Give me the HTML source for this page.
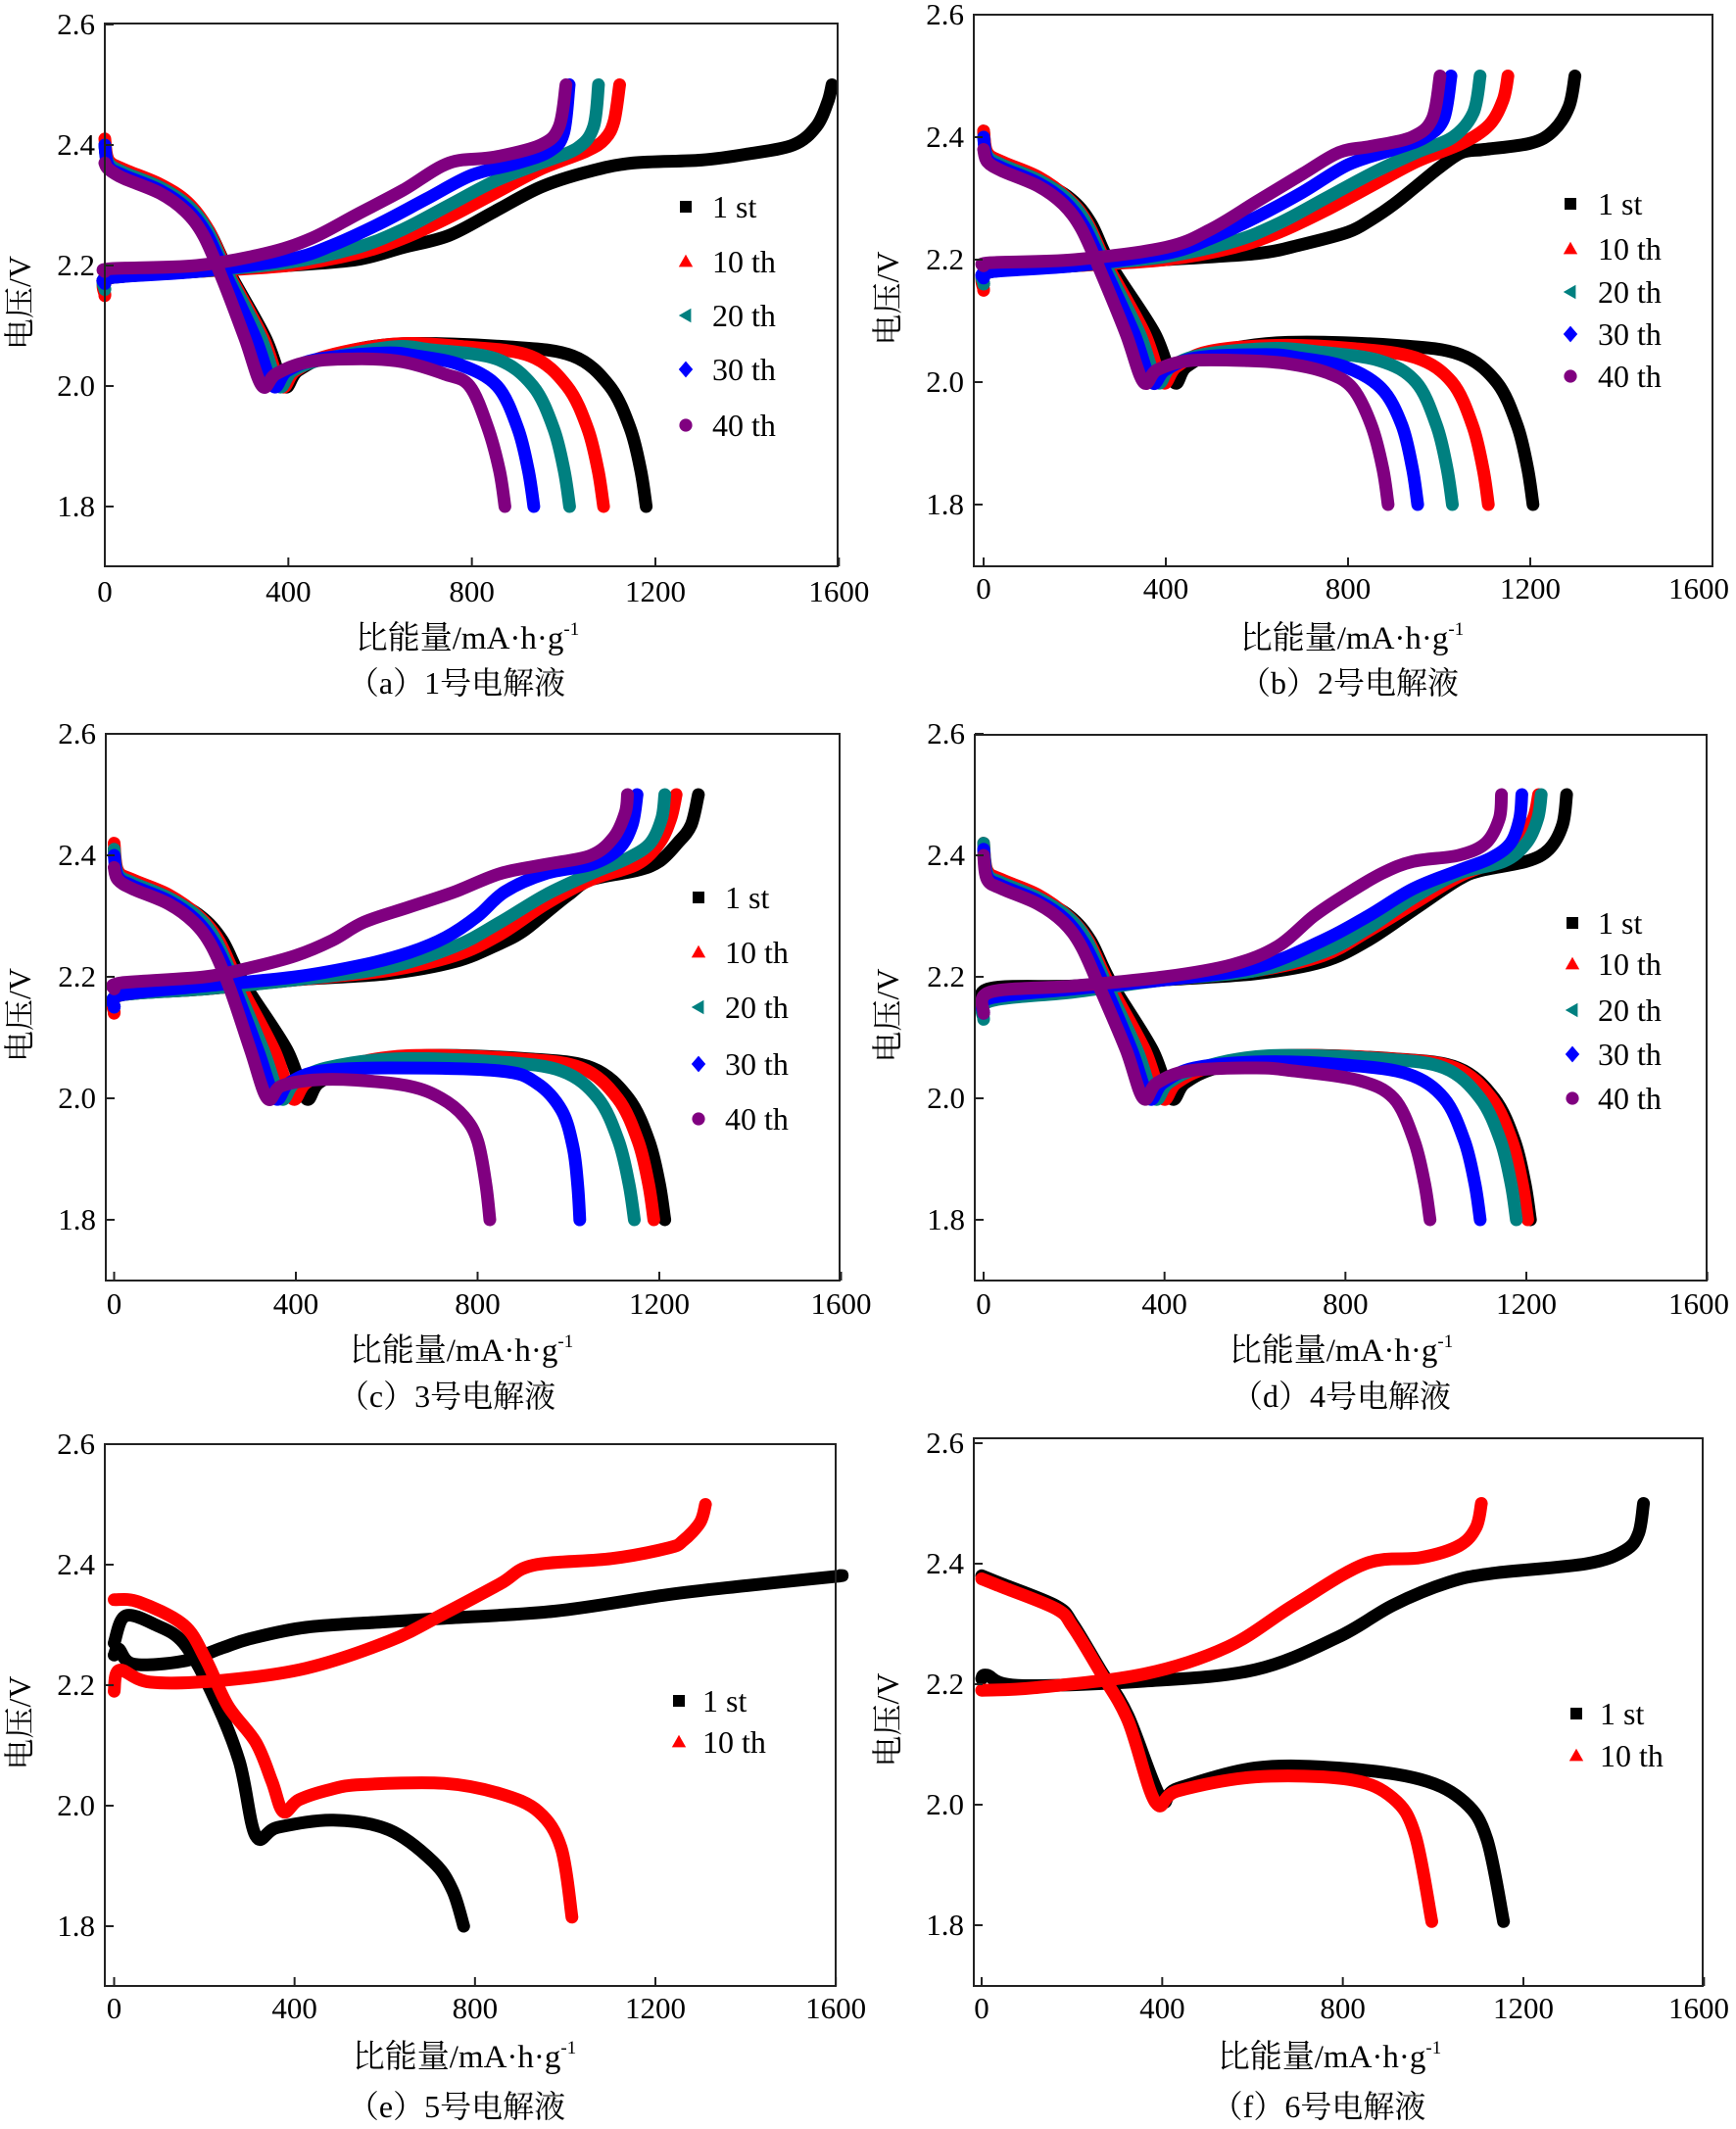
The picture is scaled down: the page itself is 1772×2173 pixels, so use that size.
<!DOCTYPE html>
<html><head><meta charset="utf-8">
<style>
html,body{margin:0;padding:0;background:#fff;}
svg{display:block;}
text{font-family:"Liberation Serif","Noto Serif CJK SC","Noto Sans CJK SC",serif;fill:#000;}
</style></head>
<body>
<svg id="fig" width="1772" height="2173" viewBox="0 0 1772 2173" xmlns="http://www.w3.org/2000/svg"></svg>
<script>
// ---------- shared axis data ----------
const xTickValues = [0, 400, 800, 1200, 1600];
const xTickLabels = ["0", "400", "800", "1200", "1600"];
const yTickValues = [1.8, 2.0, 2.2, 2.4, 2.6];
const yTickLabels = ["1.8", "2.0", "2.2", "2.4", "2.6"];
const seriesNames5 = ["1 st", "10 th", "20 th", "30 th", "40 th"];
const seriesNames2 = ["1 st", "10 th"];

// ---------- panel (a) ----------
const aCh1 = [[0,2.17],[15,2.18],[200,2.19],[400,2.20],[550,2.21],[650,2.23],[750,2.25],[850,2.29],[950,2.33],[1050,2.355],[1150,2.37],[1300,2.375],[1400,2.385],[1500,2.40],[1550,2.43],[1575,2.47],[1585,2.50]];
const aCh10 = [[0,2.15],[15,2.18],[200,2.19],[400,2.20],[550,2.22],[650,2.245],[750,2.28],[850,2.32],[950,2.36],[1050,2.39],[1090,2.41],[1110,2.44],[1122,2.50]];
const aCh20 = [[0,2.16],[15,2.18],[200,2.19],[400,2.205],[550,2.23],[650,2.26],[750,2.30],[850,2.34],[950,2.37],[1030,2.395],[1065,2.43],[1076,2.50]];
const aCh30 = [[0,2.17],[15,2.18],[200,2.19],[400,2.21],[500,2.235],[600,2.27],[700,2.31],[800,2.35],[900,2.37],[970,2.39],[1000,2.42],[1012,2.50]];
const aCh40 = [[0,2.19],[15,2.195],[200,2.20],[350,2.22],[450,2.245],[550,2.285],[650,2.325],[750,2.37],[850,2.38],[950,2.40],[990,2.43],[1005,2.50]];
const aDis1 = [[0,2.40],[8,2.37],[40,2.355],[120,2.33],[180,2.30],[225,2.26],[270,2.19],[350,2.08],[391,2.00],[420,2.025],[490,2.05],[640,2.07],[880,2.065],[1020,2.05],[1100,2.00],[1145,1.93],[1168,1.86],[1180,1.80]];
const aDis10 = [[0,2.41],[8,2.375],[40,2.36],[120,2.335],[180,2.305],[225,2.26],[268,2.19],[345,2.08],[385,2.00],[415,2.025],[485,2.05],[635,2.07],[787,2.065],[927,2.05],[1007,2.00],[1052,1.93],[1075,1.86],[1087,1.80]];
const aDis20 = [[0,2.40],[8,2.37],[40,2.355],[120,2.33],[180,2.30],[222,2.26],[265,2.19],[340,2.08],[379,2.00],[409,2.025],[479,2.045],[629,2.065],[713,2.06],[853,2.045],[933,2.00],[978,1.93],[1001,1.86],[1013,1.80]];
const aDis30 = [[0,2.40],[8,2.365],[40,2.35],[120,2.325],[178,2.295],[220,2.255],[260,2.19],[328,2.08],[367,2.00],[397,2.025],[467,2.045],[610,2.055],[680,2.05],[775,2.035],[855,2.00],[900,1.93],[923,1.86],[935,1.80]];
const aDis40 = [[0,2.37],[8,2.36],[40,2.345],[120,2.32],[175,2.29],[215,2.25],[255,2.18],[305,2.08],[343,2.00],[373,2.02],[443,2.04],[560,2.045],[650,2.04],[740,2.02],[795,2.00],[835,1.93],[860,1.86],[872,1.80]];

// ---------- panel (b) ----------
const bCh1 = [[0,2.16],[15,2.18],[200,2.19],[400,2.20],[600,2.21],[700,2.225],[800,2.245],[850,2.265],[900,2.29],[950,2.32],[1000,2.35],[1050,2.375],[1100,2.38],[1200,2.39],[1250,2.41],[1285,2.45],[1298,2.50]];
const bCh10 = [[0,2.15],[15,2.18],[200,2.19],[400,2.20],[550,2.22],[650,2.245],[750,2.28],[850,2.32],[950,2.36],[1050,2.39],[1110,2.42],[1140,2.46],[1151,2.50]];
const bCh20 = [[0,2.16],[15,2.18],[200,2.19],[400,2.205],[550,2.23],[650,2.26],[750,2.30],[850,2.34],[950,2.375],[1030,2.40],[1075,2.44],[1090,2.50]];
const bCh30 = [[0,2.17],[15,2.18],[200,2.19],[400,2.21],[500,2.235],[600,2.27],[700,2.31],[800,2.355],[900,2.38],[970,2.40],[1010,2.43],[1026,2.50]];
const bCh40 = [[0,2.19],[15,2.195],[200,2.20],[400,2.22],[500,2.25],[600,2.295],[700,2.34],[780,2.375],[850,2.385],[940,2.40],[985,2.43],[1002,2.50]];
const bDis1 = [[0,2.41],[8,2.37],[40,2.355],[120,2.33],[190,2.30],[235,2.26],[280,2.19],[375,2.08],[418,2.00],[445,2.025],[515,2.05],[668,2.065],[906,2.06],[1046,2.045],[1126,2.00],[1171,1.93],[1194,1.86],[1206,1.80]];
const bDis10 = [[0,2.41],[8,2.375],[40,2.36],[120,2.335],[185,2.30],[228,2.26],[272,2.19],[353,2.08],[393,2.00],[423,2.025],[493,2.05],[643,2.06],[808,2.055],[948,2.04],[1028,2.00],[1073,1.93],[1096,1.86],[1108,1.80]];
const bDis20 = [[0,2.40],[8,2.37],[40,2.355],[120,2.33],[182,2.30],[225,2.26],[268,2.19],[342,2.08],[381,2.00],[411,2.025],[481,2.045],[631,2.055],[729,2.05],[869,2.035],[949,2.00],[994,1.93],[1017,1.86],[1029,1.80]];
const bDis30 = [[0,2.40],[8,2.365],[40,2.35],[120,2.325],[178,2.295],[220,2.255],[262,2.19],[330,2.08],[369,2.00],[399,2.02],[469,2.04],[620,2.045],[690,2.04],[793,2.025],[873,1.99],[918,1.93],[941,1.86],[953,1.80]];
const bDis40 = [[0,2.38],[8,2.36],[40,2.345],[120,2.32],[175,2.29],[215,2.25],[257,2.18],[312,2.08],[351,2.00],[381,2.02],[451,2.035],[580,2.035],[670,2.03],[755,2.015],[810,1.99],[851,1.93],[876,1.86],[888,1.80]];

// ---------- panel (c) ----------
const cCh1 = [[0,2.15],[15,2.17],[200,2.18],[400,2.195],[600,2.205],[750,2.225],[850,2.255],[900,2.275],[950,2.305],[1000,2.335],[1050,2.36],[1150,2.375],[1200,2.39],[1240,2.42],[1270,2.45],[1286,2.50]];
const cCh10 = [[0,2.14],[15,2.17],[200,2.18],[400,2.195],[600,2.21],[750,2.235],[850,2.27],[950,2.32],[1050,2.36],[1150,2.385],[1200,2.42],[1225,2.46],[1237,2.50]];
const cCh20 = [[0,2.15],[15,2.17],[200,2.18],[400,2.195],[600,2.215],[750,2.25],[850,2.29],[950,2.335],[1050,2.37],[1130,2.395],[1180,2.42],[1205,2.46],[1212,2.50]];
const cCh30 = [[0,2.15],[15,2.17],[200,2.185],[400,2.20],[550,2.22],[650,2.24],[730,2.265],[800,2.30],[860,2.34],[950,2.37],[1050,2.385],[1110,2.41],[1140,2.45],[1151,2.50]];
const cCh40 = [[0,2.18],[15,2.19],[200,2.20],[300,2.215],[400,2.235],[480,2.26],[550,2.29],[650,2.315],[750,2.34],[850,2.37],[950,2.385],[1050,2.40],[1100,2.43],[1125,2.47],[1130,2.50]];
const cDis1 = [[0,2.41],[8,2.37],[40,2.355],[120,2.33],[190,2.30],[238,2.26],[285,2.19],[380,2.08],[422,2.00],[450,2.025],[520,2.05],[672,2.07],[912,2.065],[1052,2.05],[1132,2.00],[1177,1.93],[1200,1.86],[1212,1.80]];
const cDis10 = [[0,2.42],[8,2.375],[40,2.36],[120,2.335],[186,2.30],[230,2.26],[274,2.19],[352,2.08],[392,2.00],[422,2.025],[492,2.05],[642,2.07],[888,2.065],[1028,2.05],[1108,2.00],[1153,1.93],[1176,1.86],[1188,1.80]];
const cDis20 = [[0,2.41],[8,2.37],[40,2.355],[120,2.33],[182,2.30],[224,2.26],[266,2.19],[328,2.08],[367,2.00],[397,2.025],[467,2.05],[617,2.065],[845,2.06],[985,2.045],[1065,2.00],[1110,1.93],[1133,1.86],[1145,1.80]];
const cDis30 = [[0,2.40],[8,2.365],[40,2.35],[120,2.325],[178,2.295],[220,2.255],[260,2.19],[316,2.08],[355,2.00],[385,2.025],[455,2.045],[605,2.05],[850,2.045],[930,2.025],[985,1.98],[1010,1.92],[1020,1.86],[1025,1.80]];
const cDis40 = [[0,2.38],[8,2.36],[40,2.345],[120,2.32],[175,2.29],[215,2.25],[255,2.18],[300,2.08],[337,2.00],[367,2.02],[437,2.03],[530,2.03],[650,2.02],[720,2.00],[770,1.97],[800,1.93],[818,1.86],[827,1.80]];

// ---------- panel (d) ----------
const dCh1 = [[0,2.14],[10,2.18],[200,2.185],[400,2.195],[600,2.205],[750,2.225],[850,2.26],[950,2.31],[1050,2.36],[1100,2.375],[1200,2.39],[1250,2.41],[1280,2.45],[1289,2.50]];
const dCh10 = [[0,2.14],[15,2.165],[200,2.18],[400,2.195],[600,2.21],[750,2.235],[850,2.275],[950,2.32],[1050,2.365],[1130,2.39],[1180,2.42],[1215,2.46],[1227,2.50]];
const dCh20 = [[0,2.13],[15,2.16],[200,2.175],[400,2.195],[600,2.21],[750,2.24],[850,2.28],[950,2.33],[1050,2.37],[1150,2.39],[1200,2.42],[1225,2.46],[1233,2.50]];
const dCh30 = [[0,2.14],[15,2.165],[200,2.18],[400,2.195],[600,2.215],[750,2.26],[850,2.30],[950,2.345],[1050,2.375],[1120,2.395],[1165,2.42],[1185,2.46],[1190,2.50]];
const dCh40 = [[0,2.14],[15,2.175],[200,2.185],[400,2.20],[550,2.22],[650,2.25],[730,2.30],[800,2.335],[880,2.37],[950,2.39],[1050,2.40],[1110,2.42],[1140,2.46],[1145,2.50]];
const dDis1 = [[0,2.41],[8,2.37],[40,2.355],[120,2.33],[190,2.30],[236,2.26],[282,2.19],[373,2.08],[415,2.00],[445,2.025],[515,2.05],[665,2.07],[909,2.065],[1049,2.05],[1129,2.00],[1174,1.93],[1197,1.86],[1209,1.80]];
const dDis10 = [[0,2.42],[8,2.375],[40,2.36],[120,2.335],[186,2.30],[231,2.26],[276,2.19],[356,2.08],[396,2.00],[426,2.025],[496,2.05],[646,2.07],[903,2.065],[1043,2.05],[1123,2.00],[1168,1.93],[1191,1.86],[1203,1.80]];
const dDis20 = [[0,2.42],[8,2.37],[40,2.355],[120,2.33],[184,2.30],[228,2.26],[270,2.19],[339,2.08],[378,2.00],[408,2.025],[478,2.05],[628,2.07],[878,2.065],[1018,2.05],[1098,2.00],[1143,1.93],[1166,1.86],[1178,1.80]];
const dDis30 = [[0,2.41],[8,2.365],[40,2.35],[120,2.325],[180,2.295],[222,2.255],[264,2.19],[327,2.08],[366,2.00],[396,2.025],[466,2.05],[616,2.06],[798,2.055],[938,2.04],[1018,2.00],[1063,1.93],[1086,1.86],[1098,1.80]];
const dDis40 = [[0,2.40],[8,2.36],[40,2.345],[120,2.32],[176,2.29],[216,2.25],[258,2.18],[315,2.08],[353,2.00],[383,2.025],[453,2.045],[603,2.05],[687,2.045],[827,2.03],[907,2.00],[952,1.93],[975,1.86],[987,1.80]];

// ---------- panel (e) ----------
const eCh1 = [[0,2.25],[10,2.26],[43,2.235],[154,2.24],[240,2.262],[301,2.277],[425,2.296],[600,2.305],[732,2.311],[978,2.323],[1225,2.35],[1400,2.365],[1594,2.38],[1610,2.382]];
const eCh10 = [[0,2.19],[12,2.225],[80,2.205],[240,2.208],[425,2.228],[609,2.273],[732,2.319],[855,2.368],[929,2.399],[1102,2.41],[1230,2.428],[1262,2.44],[1299,2.47],[1311,2.50]];
const eDis1 = [[0,2.27],[25,2.315],[92,2.30],[154,2.27],[215,2.19],[277,2.075],[314,1.95],[363,1.964],[486,1.976],[609,1.96],[707,1.907],[750,1.86],[775,1.80]];
const eDis10 = [[0,2.342],[55,2.338],[154,2.30],[203,2.243],[252,2.166],[314,2.105],[350,2.04],[375,1.99],[410,2.01],[480,2.027],[548,2.035],[732,2.037],[855,2.02],[941,1.99],[991,1.93],[1015,1.815]];

// ---------- panel (f) ----------
const fCh1 = [[0,2.209],[12,2.215],[80,2.198],[361,2.205],[606,2.224],[789,2.278],[911,2.331],[1034,2.369],[1132,2.384],[1340,2.40],[1425,2.422],[1455,2.45],[1466,2.50]];
const fCh10 = [[0,2.19],[116,2.194],[361,2.217],[545,2.262],[691,2.331],[850,2.40],[973,2.41],[1058,2.43],[1095,2.46],[1107,2.50]];
const fDis1 = [[0,2.38],[43,2.367],[165,2.33],[202,2.30],[263,2.224],[324,2.148],[397,2.011],[434,2.027],[606,2.061],[789,2.061],[972,2.042],[1070,2.004],[1119,1.943],[1156,1.806]];
const fDis10 = [[0,2.375],[43,2.362],[165,2.325],[202,2.295],[263,2.22],[324,2.14],[385,2.004],[434,2.023],[606,2.046],[813,2.042],[911,2.011],[960,1.95],[997,1.806]];

// ---------- drawing ----------
const NS = "http://www.w3.org/2000/svg";
const svg = document.getElementById("fig");
const colors = ["#000000", "#ff0000", "#008080", "#0000ff", "#800080"];
const markerKinds = ["square", "triUp", "triLeft", "diamond", "hex"];

function mk(tag, attrs, parent) {
  const e = document.createElementNS(NS, tag);
  for (const k in attrs) e.setAttribute(k, attrs[k]);
  (parent || svg).appendChild(e);
  return e;
}
function smoothPath(pts) {
  let d = "M" + pts[0][0].toFixed(1) + "," + pts[0][1].toFixed(1);
  for (let i = 0; i < pts.length - 1; i++) {
    const p0 = pts[Math.max(0, i - 1)], p1 = pts[i], p2 = pts[i + 1], p3 = pts[Math.min(pts.length - 1, i + 2)];
    const c1x = p1[0] + (p2[0] - p0[0]) / 6, c1y = p1[1] + (p2[1] - p0[1]) / 6;
    const c2x = p2[0] - (p3[0] - p1[0]) / 6, c2y = p2[1] - (p3[1] - p1[1]) / 6;
    d += " C" + c1x.toFixed(1) + "," + c1y.toFixed(1) + " " + c2x.toFixed(1) + "," + c2y.toFixed(1) + " " + p2[0].toFixed(1) + "," + p2[1].toFixed(1);
  }
  return d;
}
function markerShape(kind, cx, cy, s, color, g) {
  let el;
  if (kind === "square") el = mk("rect", {x: cx - s/2, y: cy - s/2, width: s, height: s, fill: color}, g);
  else if (kind === "triUp") el = mk("polygon", {points: `${cx},${cy - s*0.6} ${cx - s*0.6},${cy + s*0.45} ${cx + s*0.6},${cy + s*0.45}`, fill: color}, g);
  else if (kind === "triLeft") el = mk("polygon", {points: `${cx - s*0.6},${cy} ${cx + s*0.45},${cy - s*0.6} ${cx + s*0.45},${cy + s*0.6}`, fill: color}, g);
  else if (kind === "diamond") el = mk("polygon", {points: `${cx},${cy - s*0.7} ${cx + s*0.6},${cy} ${cx},${cy + s*0.7} ${cx - s*0.6},${cy}`, fill: color}, g);
  else el = mk("circle", {cx: cx, cy: cy, r: s*0.55, fill: color}, g);
  return el;
}

function drawPanel(cfg) {
  const g = mk("g", {});
  
  
  const sx = v => cfg.x0 + v * (cfg.x1200 - cfg.x0) / 1200;
  const sy = v => cfg.y20 + (2.0 - v) * (cfg.y18 - cfg.y20) / 0.2;
  const [L, T, R, B] = cfg.box;

  const sg = mk("g", {}, g);
  
  
  cfg.series.forEach((s, i) => {
    [s.ch, s.dis].forEach((arr, j) => {
      const pts = arr.map(p => [sx(p[0]), sy(p[1])]);
      const path = mk("path", {d: smoothPath(pts), fill: "none", stroke: colors[i], "stroke-width": 13, "stroke-linejoin": "round", "stroke-linecap": "round"}, sg);
      
      
    });
  });

  const frame = mk("rect", {x: L, y: T, width: R - L, height: B - T, fill: "none", stroke: "#222", "stroke-width": 2}, g);
  
  

  xTickValues.forEach((v, i) => {
    const x = sx(v);
    const t = mk("line", {x1: x, y1: B, x2: x, y2: B - 9, stroke: "#222", "stroke-width": 2}, g);
    
    
    const lx = Math.min(x, 1734);
    const lb = mk("text", {x: lx, y: cfg.xLabY, "font-size": 31, "text-anchor": "middle"}, g);
    lb.textContent = xTickLabels[i];
    
    
  });
  yTickValues.forEach((v, i) => {
    const y = sy(v);
    const t = mk("line", {x1: L, y1: y, x2: L + 9, y2: y, stroke: "#222", "stroke-width": 2}, g);
    
    
    const lb = mk("text", {x: L - 10, y: y + 10, "font-size": 31, "text-anchor": "end"}, g);
    lb.textContent = yTickLabels[i];
    
    
  });

  const yt = mk("text", {x: 0, y: 0, "font-size": 32, "text-anchor": "middle", transform: `translate(${cfg.ox + 31},${(T + B) / 2 + 8}) rotate(-90)`}, g);
  yt.textContent = "电压/V";
  
  

  const xt = mk("text", {x: cfg.xTitleX, y: cfg.xTitleY, "font-size": 33, "text-anchor": "middle"}, g);
  xt.innerHTML = '比能量/mA·h·g<tspan font-size="19" dy="-14">-1</tspan>';
  
  

  const cp = mk("text", {x: cfg.capX, y: cfg.capY, "font-size": 32, "text-anchor": "middle"}, g);
  cp.textContent = cfg.caption;
  
  

  const lg = mk("g", {}, g);
  
  
  cfg.names.forEach((n, i) => {
    const cy = cfg.legRows[i];
    const entry = mk("g", {}, lg);
    
    
    markerShape(markerKinds[i], cfg.legMX, cy, 12, colors[i], entry);
    const tx = mk("text", {x: cfg.legTX, y: cy + 11, "font-size": 32}, entry);
    tx.textContent = n;
  });
}

const panels = [
  {id: "a", ox: 0, box: [107, 24, 855, 578], x0: 107, x1200: 669, y20: 394, y18: 517, xLabY: 614, xTitleX: 477, xTitleY: 662, capX: 466, capY: 708, caption: "（a）1号电解液",
   names: seriesNames5, legMX: 700, legTX: 727, legRows: [211, 267, 322, 377, 434],
   series: [{ch: aCh1, dis: aDis1}, {ch: aCh10, dis: aDis10}, {ch: aCh20, dis: aDis20}, {ch: aCh30, dis: aDis30}, {ch: aCh40, dis: aDis40}]},
  {id: "b", ox: 886, box: [994, 15, 1748, 578], x0: 1004, x1200: 1562, y20: 390, y18: 515, xLabY: 611, xTitleX: 1380, xTitleY: 662, capX: 1377, capY: 708, caption: "（b）2号电解液",
   names: seriesNames5, legMX: 1603, legTX: 1631, legRows: [208, 254, 298, 341, 384],
   series: [{ch: bCh1, dis: bDis1}, {ch: bCh10, dis: bDis10}, {ch: bCh20, dis: bDis20}, {ch: bCh30, dis: bDis30}, {ch: bCh40, dis: bDis40}]},
  {id: "c", ox: 0, box: [108, 749, 857, 1307], x0: 116.5, x1200: 673, y20: 1121, y18: 1245, xLabY: 1341, xTitleX: 471, xTitleY: 1389, capX: 456, capY: 1436, caption: "（c）3号电解液",
   names: seriesNames5, legMX: 713, legTX: 740, legRows: [916, 972, 1028, 1086, 1142],
   series: [{ch: cCh1, dis: cDis1}, {ch: cCh10, dis: cDis10}, {ch: cCh20, dis: cDis20}, {ch: cCh30, dis: cDis30}, {ch: cCh40, dis: cDis40}]},
  {id: "d", ox: 886, box: [995, 750, 1742, 1307], x0: 1004, x1200: 1558, y20: 1121, y18: 1245, xLabY: 1341, xTitleX: 1369, xTitleY: 1389, capX: 1369, capY: 1436, caption: "（d）4号电解液",
   names: seriesNames5, legMX: 1605, legTX: 1631, legRows: [942, 984, 1031, 1076, 1121],
   series: [{ch: dCh1, dis: dDis1}, {ch: dCh10, dis: dDis10}, {ch: dCh20, dis: dDis20}, {ch: dCh30, dis: dDis30}, {ch: dCh40, dis: dDis40}]},
  {id: "e", ox: 0, box: [107, 1474, 853, 2027], x0: 116.5, x1200: 669, y20: 1843, y18: 1966, xLabY: 2060, xTitleX: 474, xTitleY: 2110, capX: 466, capY: 2161, caption: "（e）5号电解液",
   names: seriesNames2, legMX: 693, legTX: 717, legRows: [1736, 1778],
   series: [{ch: eCh1, dis: eDis1}, {ch: eCh10, dis: eDis10}]},
  {id: "f", ox: 886, box: [994, 1468, 1738, 2027], x0: 1002, x1200: 1555, y20: 1842, y18: 1965, xLabY: 2060, xTitleX: 1357, xTitleY: 2110, capX: 1346, capY: 2161, caption: "（f）6号电解液",
   names: seriesNames2, legMX: 1609, legTX: 1633, legRows: [1749, 1792],
   series: [{ch: fCh1, dis: fDis1}, {ch: fCh10, dis: fDis10}]}
];

panels.forEach(p => drawPanel(p));
</script>
</body></html>
